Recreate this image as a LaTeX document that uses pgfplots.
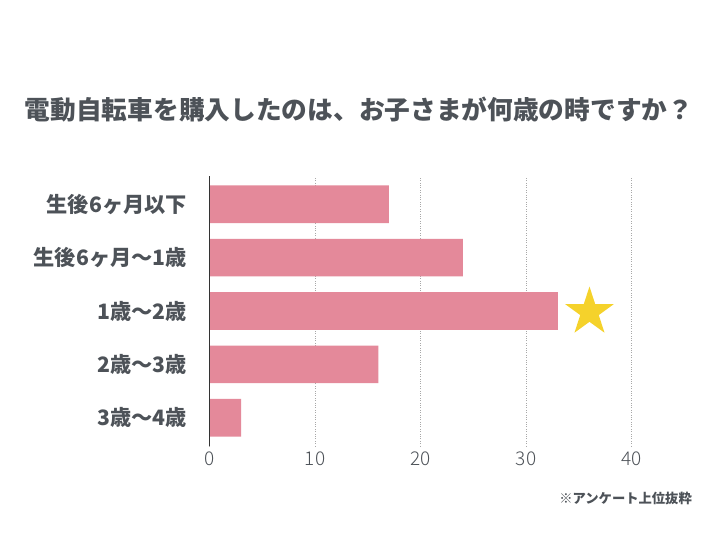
\documentclass[border=0pt]{standalone}
\usepackage{fontspec}
\setmainfont{Noto Sans CJK JP}
\newfontfamily\tickfont{Noto Sans CJK JP Light}
\usepackage{pgfplots}
\pgfplotsset{compat=1.18}
\definecolor{barcol}{HTML}{E4899A}
\definecolor{txtcol}{HTML}{4D5258}
\definecolor{starcol}{HTML}{F5D22B}
\definecolor{gridcol}{HTML}{A8A8A8}
\definecolor{axiscol}{HTML}{333333}
\pgfdeclareplotmark{fstar}{%
  \pgfpathmoveto{\pgfpointpolar{90}{\pgfplotmarksize}}%
  \pgfpathlineto{\pgfpointpolar{126}{0.382\pgfplotmarksize}}%
  \pgfpathlineto{\pgfpointpolar{162}{\pgfplotmarksize}}%
  \pgfpathlineto{\pgfpointpolar{198}{0.382\pgfplotmarksize}}%
  \pgfpathlineto{\pgfpointpolar{234}{\pgfplotmarksize}}%
  \pgfpathlineto{\pgfpointpolar{270}{0.382\pgfplotmarksize}}%
  \pgfpathlineto{\pgfpointpolar{306}{\pgfplotmarksize}}%
  \pgfpathlineto{\pgfpointpolar{342}{0.382\pgfplotmarksize}}%
  \pgfpathlineto{\pgfpointpolar{18}{\pgfplotmarksize}}%
  \pgfpathlineto{\pgfpointpolar{54}{0.382\pgfplotmarksize}}%
  \pgfpathclose\pgfusepathqfill}
\begin{document}
\begin{tikzpicture}[x=1bp,y=1bp]
\fill[white] (0,0) rectangle (720,540);
\begin{axis}[
  at={(209.5bp,94bp)}, anchor=south west,
  scale only axis, width=422.2bp, height=270bp,
  xmin=0, xmax=40, ymin=-0.53, ymax=4.53,
  bar width=0.706,
  clip=false,
  axis line style={draw=none},
  major tick length=0pt,
  xtick={0,10,20,30,40},
  ytick={0,1,2,3,4},
  yticklabels={3歳～4歳,2歳～3歳,1歳～2歳,生後6ヶ月～1歳,生後6ヶ月以下},
  yticklabel style={font=\fontsize{21.2bp}{23bp}\selectfont\bfseries, text=txtcol, inner sep=0pt, anchor=east, xshift=-22.5bp},
  xticklabel style={font=\fontsize{19bp}{21bp}\tickfont, text=txtcol, inner sep=0pt, anchor=north, yshift=-6bp},
  /pgf/number format/assume math mode=true,
  xmajorgrids, major grid style={gridcol, dotted, line width=0.8bp},
]
\addplot[xbar, fill=barcol, draw=none] coordinates {(3,0) (16,1) (33,2) (24,3) (17,4)};
\addplot[only marks, mark=fstar, mark size=25.5bp, color=starcol] coordinates {(36,1.98)};
\draw[axiscol, line width=1bp] (axis cs:0,-0.53) -- (axis cs:0,4.53);
\end{axis}
\node[font=\fontsize{25.7bp}{28bp}\selectfont\bfseries, text=txtcol] at (359,430) {電動自転車を購入したのは、お子さまが何歳の時ですか？};
\node[anchor=east, font=\fontsize{13.3bp}{15bp}\selectfont\bfseries, text=txtcol, inner sep=0pt] at (692,42) {※アンケート上位抜粋};
\end{tikzpicture}
\end{document}
